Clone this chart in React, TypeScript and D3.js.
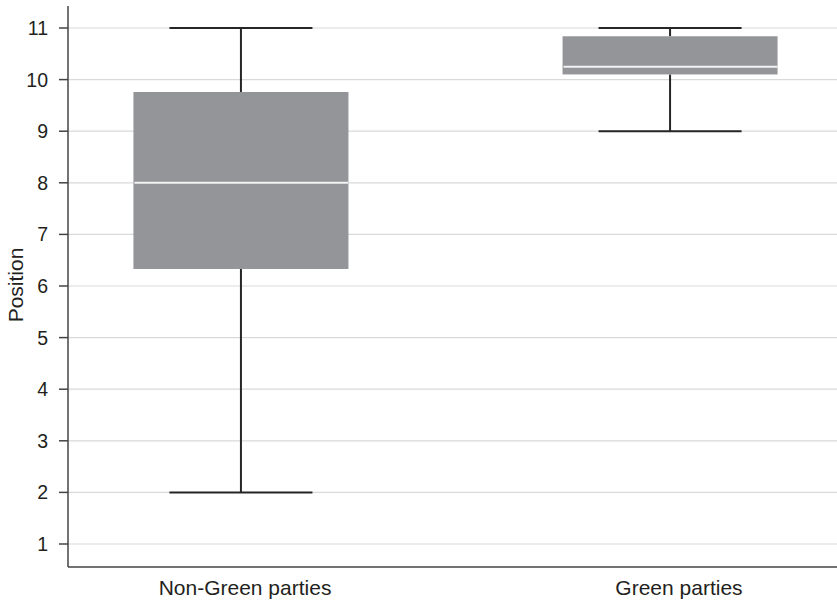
import React from "react";
import * as d3 from "d3";

const categories = ["Non-Green parties", "Green parties"];
const whiskerLow = [2, 9];
const q1 = [6.33, 10.1];
const medians = [8, 10.25];
const q3 = [9.76, 10.84];
const whiskerHigh = [11, 11];
const yTicks = [1, 2, 3, 4, 5, 6, 7, 8, 9, 10, 11];

const W = 837;
const H = 602;
const left = 68;
const plotTop = 6;
const plotBottom = 567;
const font = "'Liberation Sans', Arial, sans-serif";

export default function App() {
  const x = d3.scalePoint<string>().domain(categories).range([left, 843]).padding(0.403);
  // category labels sit a few px right of the box centres in the original
  const xLabel = d3.scalePoint<string>().domain(categories).range([left, 856]).padding(0.408);
  const y = d3.scaleLinear().domain([1, 11]).range([544, 28]);
  const boxW = 215;
  const capW = 143;

  return (
    <svg width={W} height={H} style={{ position: "absolute", left: 0, top: 0, background: "#fff" }}>
      {/* grid lines */}
      {yTicks.map(t => (
        <line key={"g" + t} x1={left} x2={W} y1={y(t)} y2={y(t)} stroke="#d9d9d9" strokeWidth={1.2} />
      ))}
      {/* boxes */}
      {categories.map((c, i) => {
        const cx = x(c)!;
        return (
          <g key={c}>
            <line x1={cx} x2={cx} y1={y(whiskerHigh[i])} y2={y(q3[i])} stroke="#262626" strokeWidth={2} />
            <line x1={cx} x2={cx} y1={y(q1[i])} y2={y(whiskerLow[i])} stroke="#262626" strokeWidth={2} />
            <line x1={cx - capW / 2} x2={cx + capW / 2} y1={y(whiskerHigh[i])} y2={y(whiskerHigh[i])} stroke="#262626" strokeWidth={2} />
            <line x1={cx - capW / 2} x2={cx + capW / 2} y1={y(whiskerLow[i])} y2={y(whiskerLow[i])} stroke="#262626" strokeWidth={2} />
            <rect x={cx - boxW / 2} width={boxW} y={y(q3[i])} height={y(q1[i]) - y(q3[i])} fill="#939598" />
            <line x1={cx - boxW / 2 + 1} x2={cx + boxW / 2} y1={y(medians[i])} y2={y(medians[i])} stroke="#f2f2f2" strokeWidth={2} />
          </g>
        );
      })}
      {/* axes */}
      <line x1={left} x2={left} y1={plotTop} y2={plotBottom} stroke="#444" strokeWidth={1.5} />
      <line x1={left} x2={W} y1={plotBottom} y2={plotBottom} stroke="#444" strokeWidth={1.5} />
      {yTicks.map(t => (
        <g key={"t" + t}>
          <line x1={left - 9} x2={left} y1={y(t)} y2={y(t)} stroke="#444" strokeWidth={1.5} />
          <text x={48} y={y(t)} dy="0.36em" textAnchor="end" fontFamily={font} fontSize={19.5} fill="#231f20">{t}</text>
        </g>
      ))}
      {categories.map(c => (
        <text key={"l" + c} x={xLabel(c)!} y={595} textAnchor="middle" fontFamily={font} fontSize={21} fill="#231f20">{c}</text>
      ))}
      <text transform={`translate(23,285) rotate(-90)`} textAnchor="middle" fontFamily={font} fontSize={21} fill="#231f20">Position</text>
    </svg>
  );
}
